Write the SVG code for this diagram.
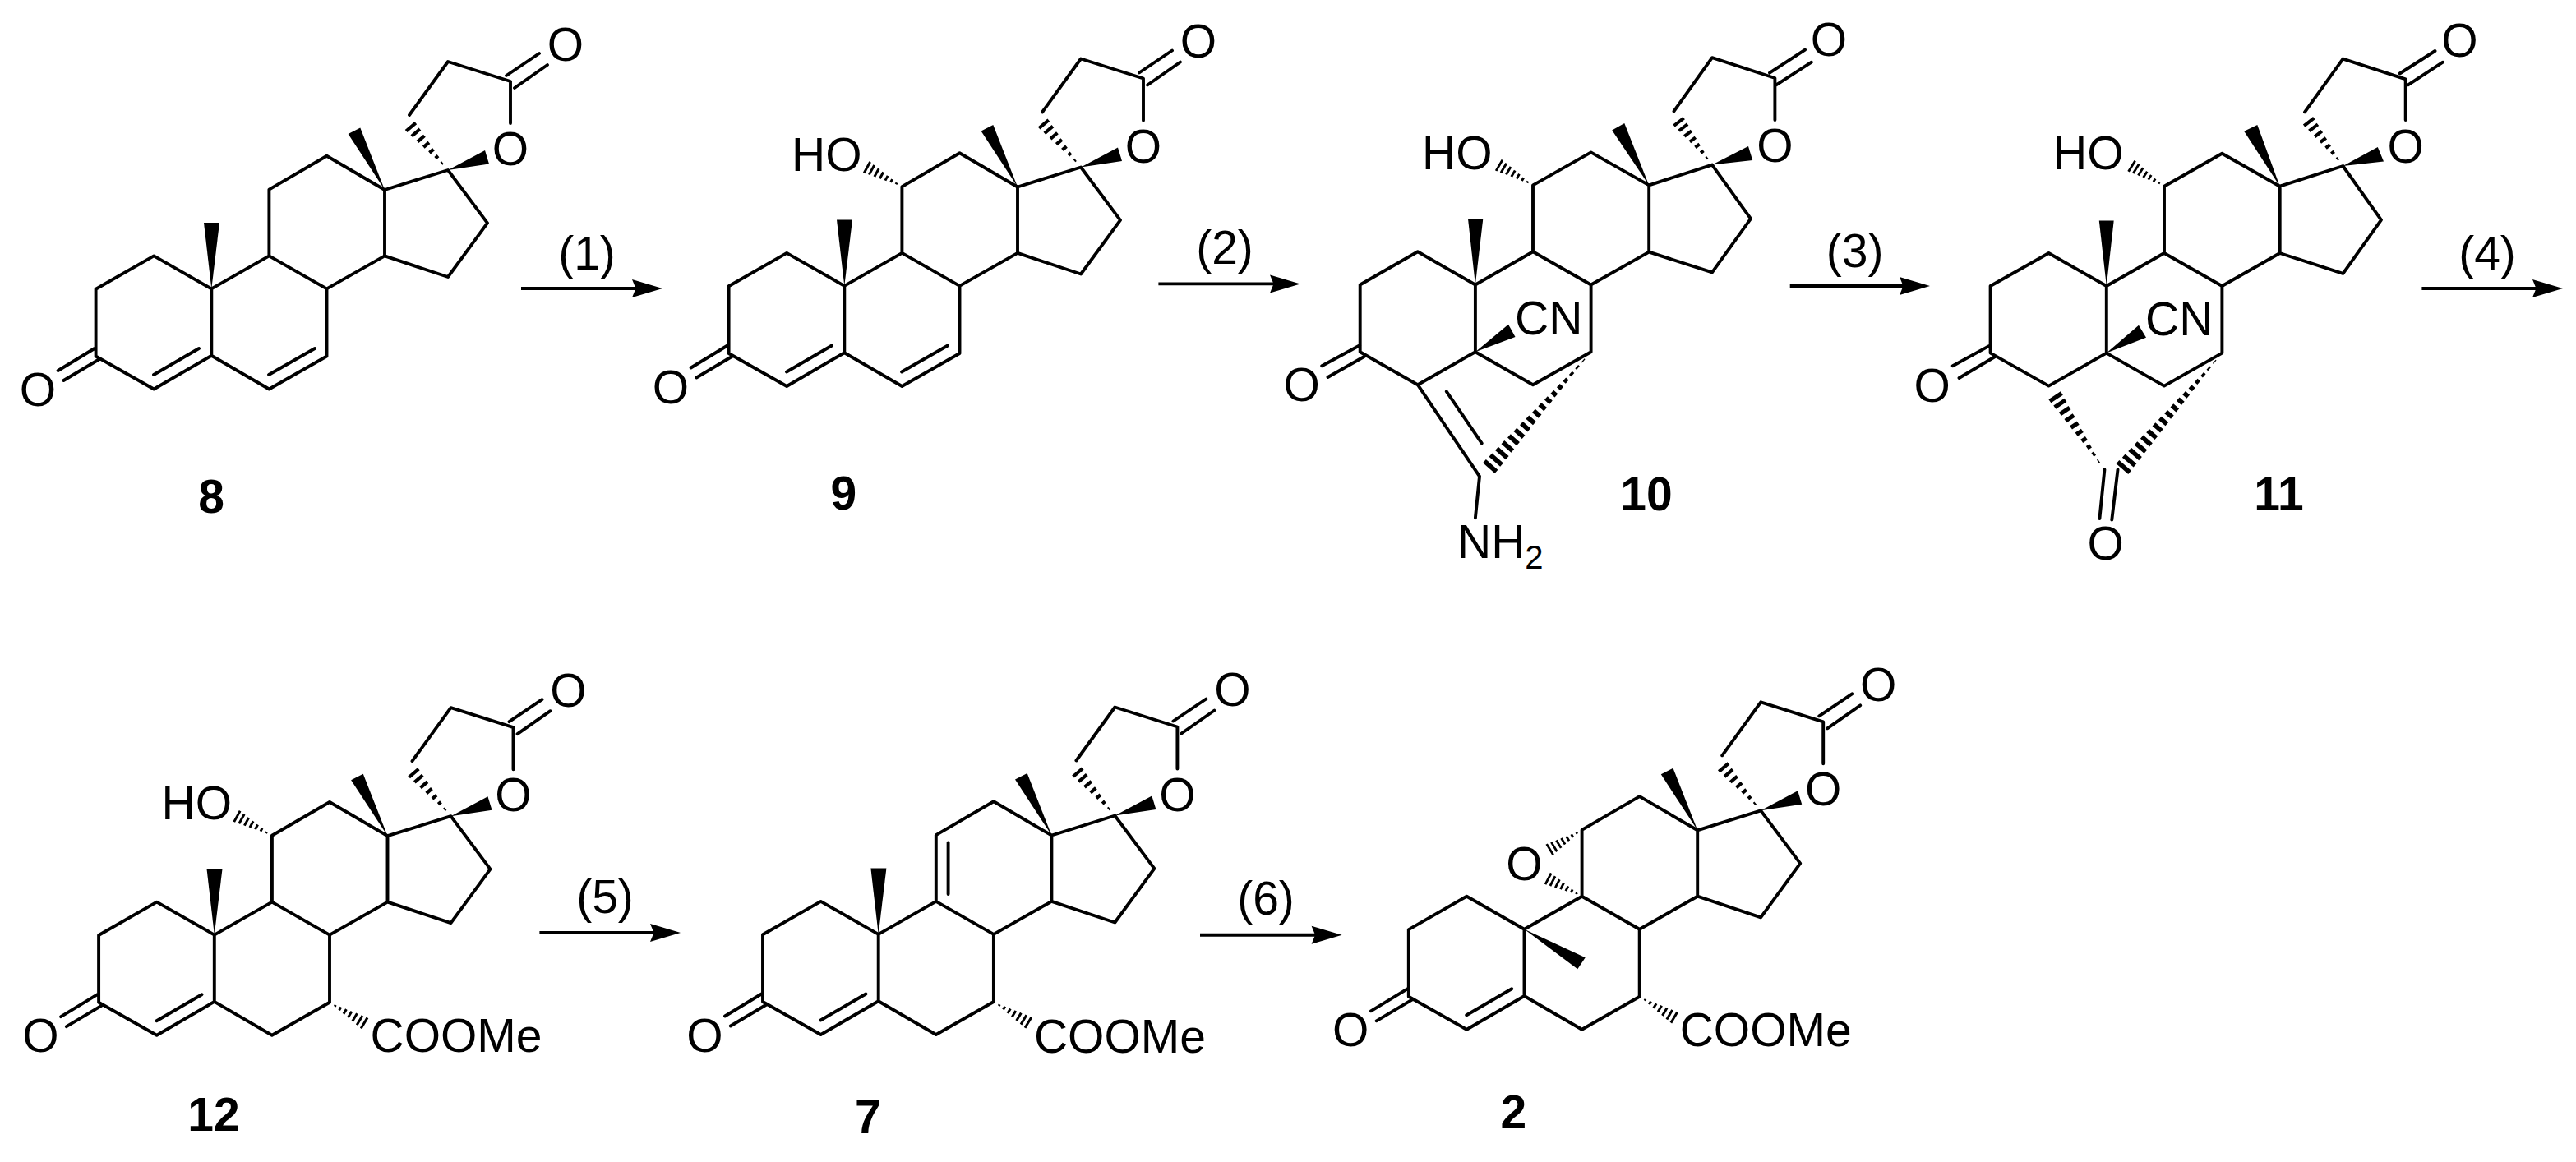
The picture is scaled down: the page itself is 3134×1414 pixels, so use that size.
<svg xmlns="http://www.w3.org/2000/svg" xmlns:xlink="http://www.w3.org/1999/xlink" width="3134" height="1414" viewBox="0 0 3134 1414">
<style>
.b{fill:none;stroke:#000;stroke-width:3.9;stroke-linejoin:round;stroke-linecap:round}
.k{fill:#000;stroke:none}
.t{font-family:"Liberation Sans",Arial,sans-serif;font-size:57px;fill:#000}
.m{text-anchor:middle}
.n{font-family:"Liberation Sans",Arial,sans-serif;font-size:57px;font-weight:bold;fill:#000;text-anchor:middle}
.a{fill:none;stroke:#000;stroke-width:3.9;marker-end:url(#arr)}
</style>
<defs>
<marker id="arr" markerUnits="userSpaceOnUse" markerWidth="40" markerHeight="24" refX="18" refY="12" orient="auto"><path d="M38,12 L1,1 L5.5,12 L1,23Z" fill="#000"/></marker>
<path id="hs" class="k" d="M.13-.13h.06v.26h-.06zM.27-.27h.06v.54h-.06zM.41-.41h.06v.82h-.06zM.55-.55h.06v1.1h-.06zM.69-.69h.06v1.38h-.06zM.83-.83h.06v1.66h-.06zM.96-.96h.06v1.92h-.06z"/>
<path id="hm" class="k" d="M.08-.08h.05v.16h-.05zM.18-.18h.05v.36h-.05zM.28-.28h.05v.56h-.05zM.38-.38h.05v.76h-.05zM.48-.48h.05v.96h-.05zM.58-.58h.05v1.16h-.05zM.68-.68h.05v1.36h-.05zM.78-.78h.05v1.56h-.05zM.88-.88h.05v1.76h-.05zM.97-.97h.05v1.94h-.05z"/>
<path id="hl" class="k" d="M.06-.06h.03v.12h-.03zM.117-.117h.03v.234h-.03zM.173-.173h.03v.346h-.03zM.23-.23h.03v.46h-.03zM.286-.286h.03v.572h-.03zM.343-.343h.03v.686h-.03zM.399-.399h.03v.798h-.03zM.456-.456h.03v.912h-.03zM.512-.512h.03v1.024h-.03zM.569-.569h.03v1.138h-.03zM.625-.625h.03v1.25h-.03zM.682-.682h.03v1.364h-.03zM.738-.738h.03v1.476h-.03zM.795-.795h.03v1.59h-.03zM.851-.851h.03v1.702h-.03zM.908-.908h.03v1.816h-.03zM.964-.964h.03v1.928h-.03z"/>
<g id="sk">
<path class="b" d="M116.6,351.8L187.2,311.4L257.3,351.4V432.7L187.2,473.5L116.6,433.5ZM257.3,432.7L327.4,473.5L397.5,433.5V351.4L327.4,311.4L257.3,351.4M397.5,351.4L468,311.4V231L397.5,189.8L327.4,230.6V311.4M468,311.4L545,337L593,271.4L545,207L468,231M498,140L545,75L621,99V150M115,424L70.6,451M121,437L77.4,463M187,456L242,424M616,92L656,65M626,107L666,79"/>
<polygon class="k" points="468,231 423.6,163 438.3,155.5"/>
<polygon class="k" points="545,207 590,183 595,199.5"/>
<use href="#hs" transform="matrix(-45.5,-53,6.07,-5.2,545,207)"/>
</g>
<polygon id="me" class="k" points="257.3,351.4 248,271 267,271"/>
<path id="c67" class="b" d="M327,456L383,424"/>
<use id="hoh" href="#hs" transform="matrix(-42.9,-23.6,3.85,-7,327.4,230.6)"/>
<use id="coh" href="#hs" transform="matrix(42.5,25.5,-4.1,6.85,397.5,433.5)"/>
</defs>
<rect width="3134" height="1414" fill="#fff"/>

<g id="mol-8">
<use href="#sk"/><use href="#me"/><use href="#c67"/>
<text class="t m" x="688" y="73.5">O</text><text class="t m" x="621" y="201">O</text><text class="t m" x="46" y="494">O</text>
<text class="n" x="257" y="624">8</text>
</g>

<g id="mol-9" transform="translate(770,-3.5)">
<use href="#sk"/><use href="#me"/><use href="#c67"/><use href="#hoh"/>
<text class="t m" x="688" y="73.5">O</text><text class="t m" x="621" y="201">O</text><text class="t m" x="46" y="494">O</text>
<text class="t" x="193" y="211">HO</text>
<text class="n" x="256.3" y="623.5">9</text>
</g>

<g id="mol-10">
<path class="b" d="M1654.7,346.5L1724.8,306.2L1794.9,346.5V428.2L1724.8,468.2L1654.7,428.2ZM1794.9,346.5L1865,306.2L1935.6,346.5V428.2L1865,468.2L1794.9,428.2M1935.6,346.5L2006.2,306.6V225.4L1935.6,185.4L1865,225.4V306.2M2006.2,306.6L2083,331.4L2130,266.2L2083,200.6L2006.2,225.4M2036.5,135.4L2083,70.2L2159.4,95V146M2153,88.6L2196,60.6M2161,103.3L2203.9,75.7M1654.7,420L1608.2,445.2M1660,433.8L1615.5,459M1724.8,468.2L1800,579.7L1794.9,630.2M1759.8,476.4L1802.7,539.3"/>
<polygon class="k" points="2006.2,225.4 1961.2,158.4 1976.3,150"/>
<polygon class="k" points="1794.9,346.5 1786,266.2 1804.3,266.2"/>
<polygon class="k" points="2083,200.6 2127,178 2132.2,195"/>
<polygon class="k" points="1794.9,428.2 1835.1,394.7 1843.5,409.9"/>
<use href="#hs" transform="matrix(-40.8,-52.8,6.33,-4.89,2083,200.6)"/>
<use href="#hs" transform="matrix(-41.4,-24.4,4.07,-6.9,1865,225.4)"/>
<use href="#hl" transform="matrix(-125,142.3,-7.51,-6.6,1935.6,428.2)"/>
<text class="t m" x="2225" y="68">O</text><text class="t m" x="2159.4" y="196.8">O</text><text class="t m" x="1583.6" y="488">O</text>
<text class="t" x="1730" y="205.6">HO</text>
<text class="t" x="1843" y="407">CN</text>
<text class="t" x="1773" y="679.3">NH<tspan font-size="40" dy="12.7">2</tspan></text>
<text class="n" x="2003" y="621">10</text>
</g>

<g id="mol-11">
<path class="b" d="M2421.6,348L2492.5,308L2562.8,348V429.6L2492.5,469.6L2421.6,429.6ZM2562.8,348L2633,308L2703.4,348V429.6L2633,469.6L2562.8,429.6M2703.4,348L2773.7,308V226.7L2703.4,186.8L2633,226.7V308M2773.7,308L2850.5,332.8L2897,267.6L2850.5,202L2773.7,226.7M2804,136.3L2850.5,71.6L2926.7,96.4V146M2919.6,89.5L2962.5,62M2929.7,103.3L2972,75.7M2419.2,421.4L2375.7,445.2M2427.6,433.8L2383.5,460M2560.4,571.5L2554.4,631M2576.5,571.5L2569.3,632.5"/>
<polygon class="k" points="2773.7,226.7 2730.2,159.7 2746.3,152"/>
<polygon class="k" points="2562.8,348 2553.8,268.5 2571.7,268.5"/>
<polygon class="k" points="2850.5,202 2892.8,179 2900,196.5"/>
<polygon class="k" points="2562.8,429.6 2602,395.7 2611,410.8"/>
<use href="#hs" transform="matrix(-41.7,-54.2,6.34,-4.88,2850.5,202)"/>
<use href="#hs" transform="matrix(-39.8,-24.7,4.22,-6.8,2633,226.7)"/>
<use href="#hl" transform="matrix(-122.2,141.9,-7.58,-6.52,2703.4,429.6)"/>
<use href="#hm" transform="matrix(-58.4,-87.6,7.49,-4.99,2559.2,570.5)"/>
<text class="t m" x="2992.3" y="69">O</text><text class="t m" x="2926.7" y="197.7">O</text><text class="t m" x="2350.7" y="489">O</text><text class="t m" x="2561.6" y="681">O</text>
<text class="t" x="2498" y="206">HO</text>
<text class="t" x="2610" y="408">CN</text>
<text class="n" x="2772.5" y="621">11</text>
</g>

<g id="mol-12" transform="translate(3.5,786.2)">
<use href="#sk"/><use href="#me"/><use href="#hoh"/><use href="#coh"/>
<text class="t m" x="688" y="73.5">O</text><text class="t m" x="621" y="201">O</text><text class="t m" x="46" y="494">O</text>
<text class="t" x="193" y="211">HO</text>
<text class="t" x="447" y="494.3">COOMe</text>
<text class="n" x="256.5" y="589.8">12</text>
</g>

<g id="mol-7" transform="translate(811.4,785.5)">
<use href="#sk"/><use href="#me"/><use href="#coh"/>
<path class="b" d="M342.2,240V302.6"/>
<text class="t m" x="688" y="73.5">O</text><text class="t m" x="621" y="201">O</text><text class="t m" x="46" y="494">O</text>
<text class="t" x="446.5" y="495">COOMe</text>
<text class="n" x="244.4" y="593.5">7</text>
</g>

<g id="mol-2" transform="translate(1597.2,779.3)">
<use href="#sk"/><use href="#coh"/>
<polygon class="k" points="257.3,351.4 331.5,386 322.1,400"/>
<use href="#hs" transform="matrix(-39.3,24,-4.17,-6.83,327.4,230.6)"/>
<use href="#hs" transform="matrix(-41.4,-21.6,3.7,-7.09,327.4,311.4)"/>
<text class="t m" x="688" y="73.5">O</text><text class="t m" x="621" y="201">O</text><text class="t m" x="46" y="494">O</text>
<text class="t m" x="257.2" y="291.8">O</text>
<text class="t" x="446.5" y="493.6">COOMe</text>
<text class="n" x="244.2" y="593.7">2</text>
</g>

<g id="connectors">
<path class="a" d="M634,351H786"/><text class="t m" x="714" y="327.5">(1)</text>
<path class="a" d="M1409.4,345.4H1562"/><text class="t m" x="1490" y="321">(2)</text>
<path class="a" d="M2177.7,348H2328"/><text class="t m" x="2256.6" y="324.5">(3)</text>
<path class="a" d="M2946.4,351H3098"/><text class="t m" x="3026" y="327.7">(4)</text>
<path class="a" d="M656.4,1135H808"/><text class="t m" x="736" y="1111">(5)</text>
<path class="a" d="M1460,1137.8H1612.6"/><text class="t m" x="1540" y="1113">(6)</text>
</g>
</svg>
